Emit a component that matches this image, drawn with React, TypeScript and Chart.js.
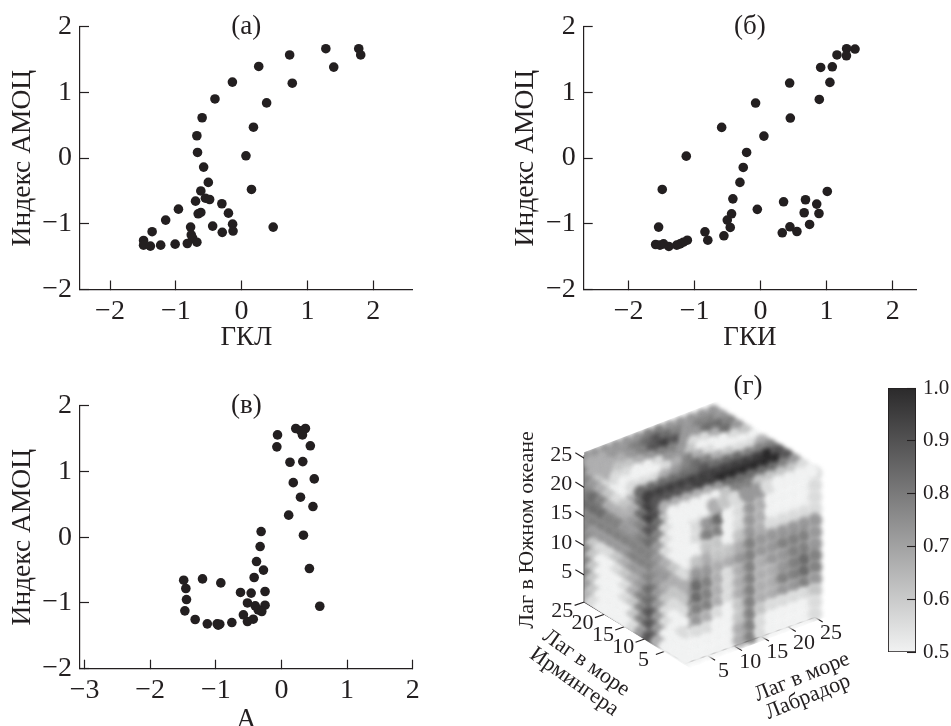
import React, { useEffect, useRef } from "react";
import Chart from "chart.js/auto";

const INK = "#231f20";
const SERIF = "'Liberation Serif', serif";

// Panel (а)
const gklX = [1.78,1.81,1.28,1.40,0.73,0.77,0.26,0.38,-0.14,-0.405,-0.60,0.18,-0.68,-0.67,0.066,-0.577,-0.506,0.15,-0.62,-0.55,-0.486,-0.70,-0.30,-0.96,-0.20,-0.62,-0.66,-1.154,-0.137,-0.44,0.48,-0.775,-0.294,-0.13,-1.36,-0.765,-0.744,-1.49,-0.68,-0.825,-1.01,-1.23,-1.49,-1.387];
const gklY = [1.665,1.57,1.665,1.385,1.57,1.14,1.395,0.84,1.157,0.90,0.614,0.47,0.34,0.086,0.035,-0.137,-0.37,-0.477,-0.50,-0.61,-0.63,-0.655,-0.695,-0.777,-0.838,-0.827,-0.848,-0.944,-1.005,-1.035,-1.05,-1.05,-1.13,-1.11,-1.12,-1.17,-1.22,-1.254,-1.28,-1.30,-1.31,-1.325,-1.325,-1.34];

// Panel (б)
const gkiX = [1.43,1.303,1.30,1.157,1.086,0.91,1.05,0.44,0.889,-0.076,0.45,-0.59,0.05,-0.212,-1.126,-0.263,-0.313,-1.49,1.01,-0.42,0.68,0.348,0.85,-0.05,0.884,0.66,-0.44,-0.505,0.742,0.444,-1.545,-0.46,0.55,-0.843,0.328,-0.556,-0.80,-1.11,-1.17,-1.22,-1.27,-1.39,-1.47,-1.525,-1.59];
const gkiY = [1.66,1.665,1.558,1.57,1.39,1.38,1.152,1.142,0.893,0.838,0.61,0.467,0.335,0.086,0.03,-0.142,-0.37,-0.477,-0.508,-0.62,-0.634,-0.665,-0.70,-0.78,-0.843,-0.832,-0.848,-0.944,-1.01,-1.046,-1.05,-1.056,-1.117,-1.122,-1.137,-1.183,-1.25,-1.25,-1.28,-1.305,-1.325,-1.345,-1.305,-1.325,-1.315];

// Panel (в)
const aX = [0.218,0.365,0.29,0.32,-0.06,0.44,-0.07,0.13,0.325,0.50,0.18,0.29,0.48,0.11,-0.31,0.335,-0.325,-0.38,0.426,-0.274,-0.416,-1.49,-1.203,-0.924,-1.457,-0.624,-0.462,-0.25,-1.447,-0.518,-0.40,-0.25,0.584,-1.472,-0.355,-0.30,-0.58,-1.315,-0.43,-0.518,-1.13,-0.98,-0.94,-0.756,-0.964];
const aY = [1.653,1.653,1.62,1.556,1.556,1.39,1.374,1.14,1.15,0.887,0.83,0.608,0.466,0.335,0.086,0.03,-0.142,-0.37,-0.477,-0.50,-0.613,-0.654,-0.634,-0.695,-0.78,-0.84,-0.85,-0.826,-0.948,-1.0,-1.044,-1.034,-1.05,-1.12,-1.105,-1.13,-1.18,-1.252,-1.247,-1.283,-1.318,-1.318,-1.323,-1.298,-1.338];

const yTicks = [-2, -1, 0, 1, 2];
const gklTicks = [-2, -1, 0, 1, 2];
const gkiTicks = [-2, -1, 0, 1, 2];
const aTicks = [-3, -2, -1, 0, 1, 2];

// Panel (г): correlation levels (0 = 0.5 ... 9 = 1.0) at lags 1,3,...,25
const topLevels = [
  [4,4,4,4,4,4,5,5,4,4,4,4,4],
  [3,3,4,4,5,6,7,6,5,4,5,5,4],
  [3,3,3,4,5,7,8,7,4,4,6,6,5],
  [3,2,2,3,4,5,5,4,1,1,3,6,4],
  [1,1,0,0,1,4,4,2,0,0,0,1,2],
  [0,0,0,0,1,3,5,3,1,0,0,0,0],
  [1,1,1,3,4,5,6,5,3,2,1,1,3],
  [6,6,6,6,6,6,7,6,6,6,5,5,5],
  [8,8,8,8,8,8,8,8,8,8,8,9,7],
  [7,7,7,7,8,8,9,9,9,9,9,9,7],
  [3,3,3,3,3,4,6,6,6,6,6,5,4],
  [0,0,0,0,0,2,5,5,2,2,2,2,1],
  [0,0,0,3,2,1,4,4,1,0,0,0,0],
];
const leftLevels = [
  [4,3,2,1,1,1,3,6,8,6,3,0,0],
  [5,3,2,1,0,0,3,6,8,7,2,0,0],
  [5,4,3,2,1,2,3,6,8,6,1,0,0],
  [5,6,5,3,3,3,4,5,7,5,1,0,0],
  [6,6,6,5,5,4,4,5,6,4,1,0,0],
  [5,5,5,5,5,5,5,5,5,4,3,2,1],
  [5,4,4,4,4,4,5,5,5,4,4,3,3],
  [5,2,1,1,2,3,4,4,5,4,3,2,2],
  [5,2,0,0,1,2,3,4,6,4,2,1,1],
  [5,2,0,0,0,1,3,5,6,4,1,0,0],
  [5,2,0,0,0,1,2,5,7,4,1,0,1],
  [4,2,0,0,0,0,2,5,7,4,0,0,0],
  [3,1,0,0,0,0,1,4,7,3,0,0,0],
];
const rightLevels = [
  [1,1,2,3,0,1,4,3,0,0,0,0,1],
  [0,1,4,6,0,1,4,3,0,0,0,0,1],
  [0,1,5,5,0,1,4,3,0,0,0,0,1],
  [0,0,2,2,0,2,4,3,1,1,1,1,1],
  [1,2,3,2,2,3,5,4,4,4,4,4,4],
  [3,4,4,3,3,4,5,4,4,5,5,5,4],
  [4,6,5,3,1,3,5,3,4,4,5,5,4],
  [5,6,5,3,1,3,5,3,3,4,5,6,5],
  [5,5,5,3,1,3,5,3,3,5,5,6,5],
  [3,4,3,1,0,2,5,3,3,4,4,5,4],
  [0,1,1,0,0,2,5,2,1,1,1,1,2],
  [0,0,0,0,0,3,5,1,0,0,0,0,1],
  [0,0,0,0,0,3,5,1,0,0,0,0,1],
];
const gridLags = [1,3,5,7,9,11,13,15,17,19,21,23,25];
const cubeTicks = [5,10,15,20,25];
const colorTicks = [0.5,0.6,0.7,0.8,0.9,1.0];

const fmt = (v: number) => String(v).replace("-", "\u2212");

function levelColor(level: number) {
  const t = level / 9;
  const c = (a: number, b: number) => Math.round(a + (b - a) * t);
  return `rgb(${c(241,43)},${c(242,42)},${c(242,43)})`;
}

function panelConfig(xs: number[], ys: number[], xTicks: number[], xMin: number, xMax: number, xTitle: string, label: string, pad: any) {
  return {
    type: "scatter",
    data: { datasets: [{ data: xs.map((x, i) => ({ x, y: ys[i] })), pointRadius: 4.8, pointHoverRadius: 4.8, backgroundColor: INK, borderWidth: 0 }] },
    options: {
      animation: false, responsive: false,
      layout: { padding: pad },
      plugins: {
        legend: { display: false }, tooltip: { enabled: false },
      },
      scales: {
        x: {
          type: "linear", min: xMin, max: xMax,
          afterBuildTicks: (s: any) => { s.ticks = xTicks.map((value) => ({ value })); },
          afterFit: (s: any) => { s.height = pad.xh; s.paddingLeft = 0; s.paddingRight = 0; },
          grid: { drawOnChartArea: false, tickLength: -9, tickColor: INK, tickWidth: 1.2 },
          border: { color: INK, width: 1.2 },
          ticks: { padding: 14, color: INK, font: { family: SERIF, size: 28 }, maxRotation: 0, autoSkip: false, callback: fmt },
          title: { display: true, text: xTitle, color: INK, font: { family: SERIF, size: 27 }, padding: { top: 0, bottom: 0 } },
        },
        y: {
          type: "linear", min: -2, max: 2,
          afterBuildTicks: (s: any) => { s.ticks = yTicks.map((value) => ({ value })); },
          afterFit: (s: any) => { s.width = 80; s.paddingTop = 0; s.paddingBottom = 0; },
          grid: { drawOnChartArea: false, tickLength: -9, tickColor: INK, tickWidth: 1.2 },
          border: { color: INK, width: 1.2 },
          ticks: { padding: 17, color: INK, font: { family: SERIF, size: 28 }, autoSkip: false, callback: fmt },
          title: { display: true, text: "Индекс АМОЦ", color: INK, font: { family: SERIF, size: 27.5 }, padding: { top: 6, bottom: 0 } },
        },
      },
    },
    plugins: [{
      id: "panelLabel",
      afterDraw(chart: any) {
        const { ctx, chartArea, scales } = chart;
        ctx.save();
        ctx.font = `27px ${SERIF}`; ctx.fillStyle = INK; ctx.textAlign = "center"; ctx.textBaseline = "middle";
        ctx.fillText(label, (chartArea.left + chartArea.right) / 2, scales.y.getPixelForValue(2));
        ctx.restore();
      },
    }],
  };
}

// Cube projection: lags to canvas units
const project = (i: number, j: number, k: number) => ({
  x: 185.7 + 5.6 * (j - 1) - 4.23 * i,
  y: 298.3 - 2.0 * (j - 1) - 2.56 * i - 6.1 * (k - 0.4),
});

function faceDataset(levels: number[][], fn: (a: number, b: number) => { x: number; y: number }) {
  const data: any[] = [];
  const colors: string[] = [];
  levels.forEach((row, r) => row.forEach((lvl, c) => {
    data.push(fn(r, c));
    colors.push(levelColor(lvl));
  }));
  return { data, backgroundColor: colors, pointRadius: 7.5, pointHoverRadius: 7.5, borderWidth: 0, order: 0 };
}

function segment(a: any, b: any, width = 1.3) {
  return { data: [a, b], showLine: true, pointRadius: 0, borderColor: INK, borderWidth: width };
}

function cubeConfig() {
  const lags = gridLags;
  const rev = [...gridLags].reverse();
  const top = faceDataset(topLevels, (r, c) => project(rev[r], lags[c], 25));
  const left = faceDataset(leftLevels, (r, c) => project(rev[c], 1, rev[r]));
  const right = faceDataset(rightLevels, (r, c) => project(0, lags[c], rev[r]));
  const lines: any[] = [
    segment(project(25, 1, 0.4), project(25, 1, 25.5)),
    segment(project(25, 1, 0.4), project(0, 1, 0.4)),
    segment(project(0, 1, 0.4), project(0, 25, 0.4)),
  ];
  cubeTicks.forEach((t) => {
    lines.push(segment(project(25, 1, t), project(27.2, 1, t), 1.1));
    lines.push(segment(project(t, 1, 0.4), project(t, -0.8, 0.4), 1.1));
    lines.push(segment(project(0, t, 0.4), project(-1.9, t, 0.4), 1.1));
  });
  const outline = [
    project(25, 1, 0.4), project(25, 1, 26), project(26, 27, 26), project(-1, 27, 26),
    project(-1, 27, 0.4), project(-1, 1, 0),
  ];
  return {
    type: "scatter",
    data: { datasets: [top, left, right, ...lines] },
    options: {
      animation: false, responsive: false,
      plugins: { legend: { display: false }, tooltip: { enabled: false } },
      scales: {
        x: { type: "linear", min: 0, max: 380, display: false },
        y: { type: "linear", min: 0, max: 356, reverse: true, display: false },
      },
    },
    plugins: [{
      id: "softFaces",
      beforeDatasetDraw(chart: any, args: any) {
        if (args.index < 3) {
          const { ctx, scales } = chart;
          ctx.save();
          ctx.beginPath();
          outline.forEach((p, n) => {
            const x = scales.x.getPixelForValue(p.x), y = scales.y.getPixelForValue(p.y);
            if (n) ctx.lineTo(x, y); else ctx.moveTo(x, y);
          });
          ctx.closePath();
          ctx.clip();
          ctx.filter = "blur(2.3px)";
        }
      },
      afterDatasetDraw(chart: any, args: any) {
        if (args.index < 3) { chart.ctx.restore(); }
      },
    }, {
      id: "cubeText",
      afterDraw(chart: any) {
        const { ctx } = chart;
        const { x: sx, y: sy } = chart.scales;
        const at = (p: { x: number; y: number }) => [sx.getPixelForValue(p.x), sy.getPixelForValue(p.y)];
        ctx.save();
        ctx.fillStyle = INK; ctx.textBaseline = "middle";
        ctx.font = `22px ${SERIF}`;
        cubeTicks.forEach((t) => {
          let [x, y] = at(project(25, 1, t));
          ctx.textAlign = "right"; ctx.fillText(String(t), x - 12, y - 3);
          ctx.textAlign = "center";
          [x, y] = at(project(t, 1, 0.4)); ctx.fillText(String(t), x - 22, y + 9);
          [x, y] = at(project(0, t, 0.4)); ctx.fillText(String(t), x + 16, y + 16);
        });
        ctx.textAlign = "center";
        ctx.font = `27px ${SERIF}`;
        ctx.fillText("(г)", 248, 17);
        const rotText = (s: string, x: number, y: number, deg: number, size: number) => {
          ctx.save();
          ctx.translate(x, y); ctx.rotate((deg * Math.PI) / 180);
          ctx.font = `${size}px ${SERIF}`;
          ctx.fillText(s, 0, 0);
          ctx.restore();
        };
        rotText("Лаг в Южном океане", 27, 160, -90, 22);
        rotText("Лаг в море", 86, 293, 35, 22);
        rotText("Ирмингера", 74, 312, 35, 22);
        rotText("Лаг в море", 302, 307, -22, 22);
        rotText("Лабрадор", 308, 327, -22, 22);
        ctx.restore();
      },
    }],
  };
}

function colorbarConfig() {
  return {
    type: "bar",
    data: {
      labels: ["scale"],
      datasets: [{
        data: [[colorTicks[0], colorTicks[colorTicks.length - 1]]],
        categoryPercentage: 1, barPercentage: 1,
        borderColor: INK, borderWidth: 1.2, borderSkipped: false,
        backgroundColor: (c: any) => {
          const area = c.chart.chartArea;
          if (!area) return "#888";
          const g = c.chart.ctx.createLinearGradient(0, area.bottom, 0, area.top);
          g.addColorStop(0, levelColor(0));
          g.addColorStop(1, levelColor(9));
          return g;
        },
      }],
    },
    options: {
      animation: false, responsive: false,
      layout: { padding: { left: 18, top: 18, bottom: 74, right: 0 } },
      plugins: { legend: { display: false }, tooltip: { enabled: false } },
      scales: {
        x: { display: false },
        y: {
          position: "right", min: 0.5, max: 1.0,
          afterBuildTicks: (s: any) => { s.ticks = colorTicks.map((value) => ({ value })); },
          afterFit: (s: any) => { s.width = 35; s.paddingTop = 0; s.paddingBottom = 0; },
          grid: { drawOnChartArea: false, tickLength: -9, tickColor: INK, tickWidth: 1.1, z: 1 },
          border: { display: false },
          ticks: { padding: 16, color: INK, font: { family: SERIF, size: 21 }, autoSkip: false, callback: (v: number) => Number(v).toFixed(1) },
        },
      },
    },
  };
}

const PANELS = [
  { left: 0, top: 0, width: 470, height: 354, make: () => panelConfig(gklX, gklY, gklTicks, -2.456, 2.6, "ГКЛ", "(а)", { left: 0, top: 26.7, right: 57.3, bottom: 0, xh: 64.5 }) },
  { left: 470, top: 0, width: 481, height: 354, make: () => panelConfig(gkiX, gkiY, gkiTicks, -2.68, 2.354, "ГКИ", "(б)", { left: 33.7, top: 26.7, right: 35, bottom: 0, xh: 64.5 }) },
  { left: 0, top: 370, width: 470, height: 366, make: () => panelConfig(aX, aY, aTicks, -3.07, 2, "А", "(в)", { left: 0, top: 35.7, right: 57.3, bottom: 0, xh: 67.3 }) },
  { left: 500, top: 370, width: 380, height: 356, make: cubeConfig },
  { left: 870, top: 370, width: 81, height: 356, make: colorbarConfig },
];

function ChartCanvas({ p }: { p: any }) {
  const ref = useRef<HTMLCanvasElement | null>(null);
  useEffect(() => {
    const chart = new Chart(ref.current as any, p.make() as any);
    return () => chart.destroy();
  }, []);
  return <canvas ref={ref} width={p.width} height={p.height} style={{ position: "absolute", left: p.left, top: p.top, width: p.width, height: p.height }} />;
}

export default function App() {
  return (
    <div style={{ position: "absolute", left: 0, top: 0, width: 951, height: 726, background: "#fff", overflow: "hidden" }}>
      {PANELS.map((p, i) => <ChartCanvas key={i} p={p} />)}
    </div>
  );
}
